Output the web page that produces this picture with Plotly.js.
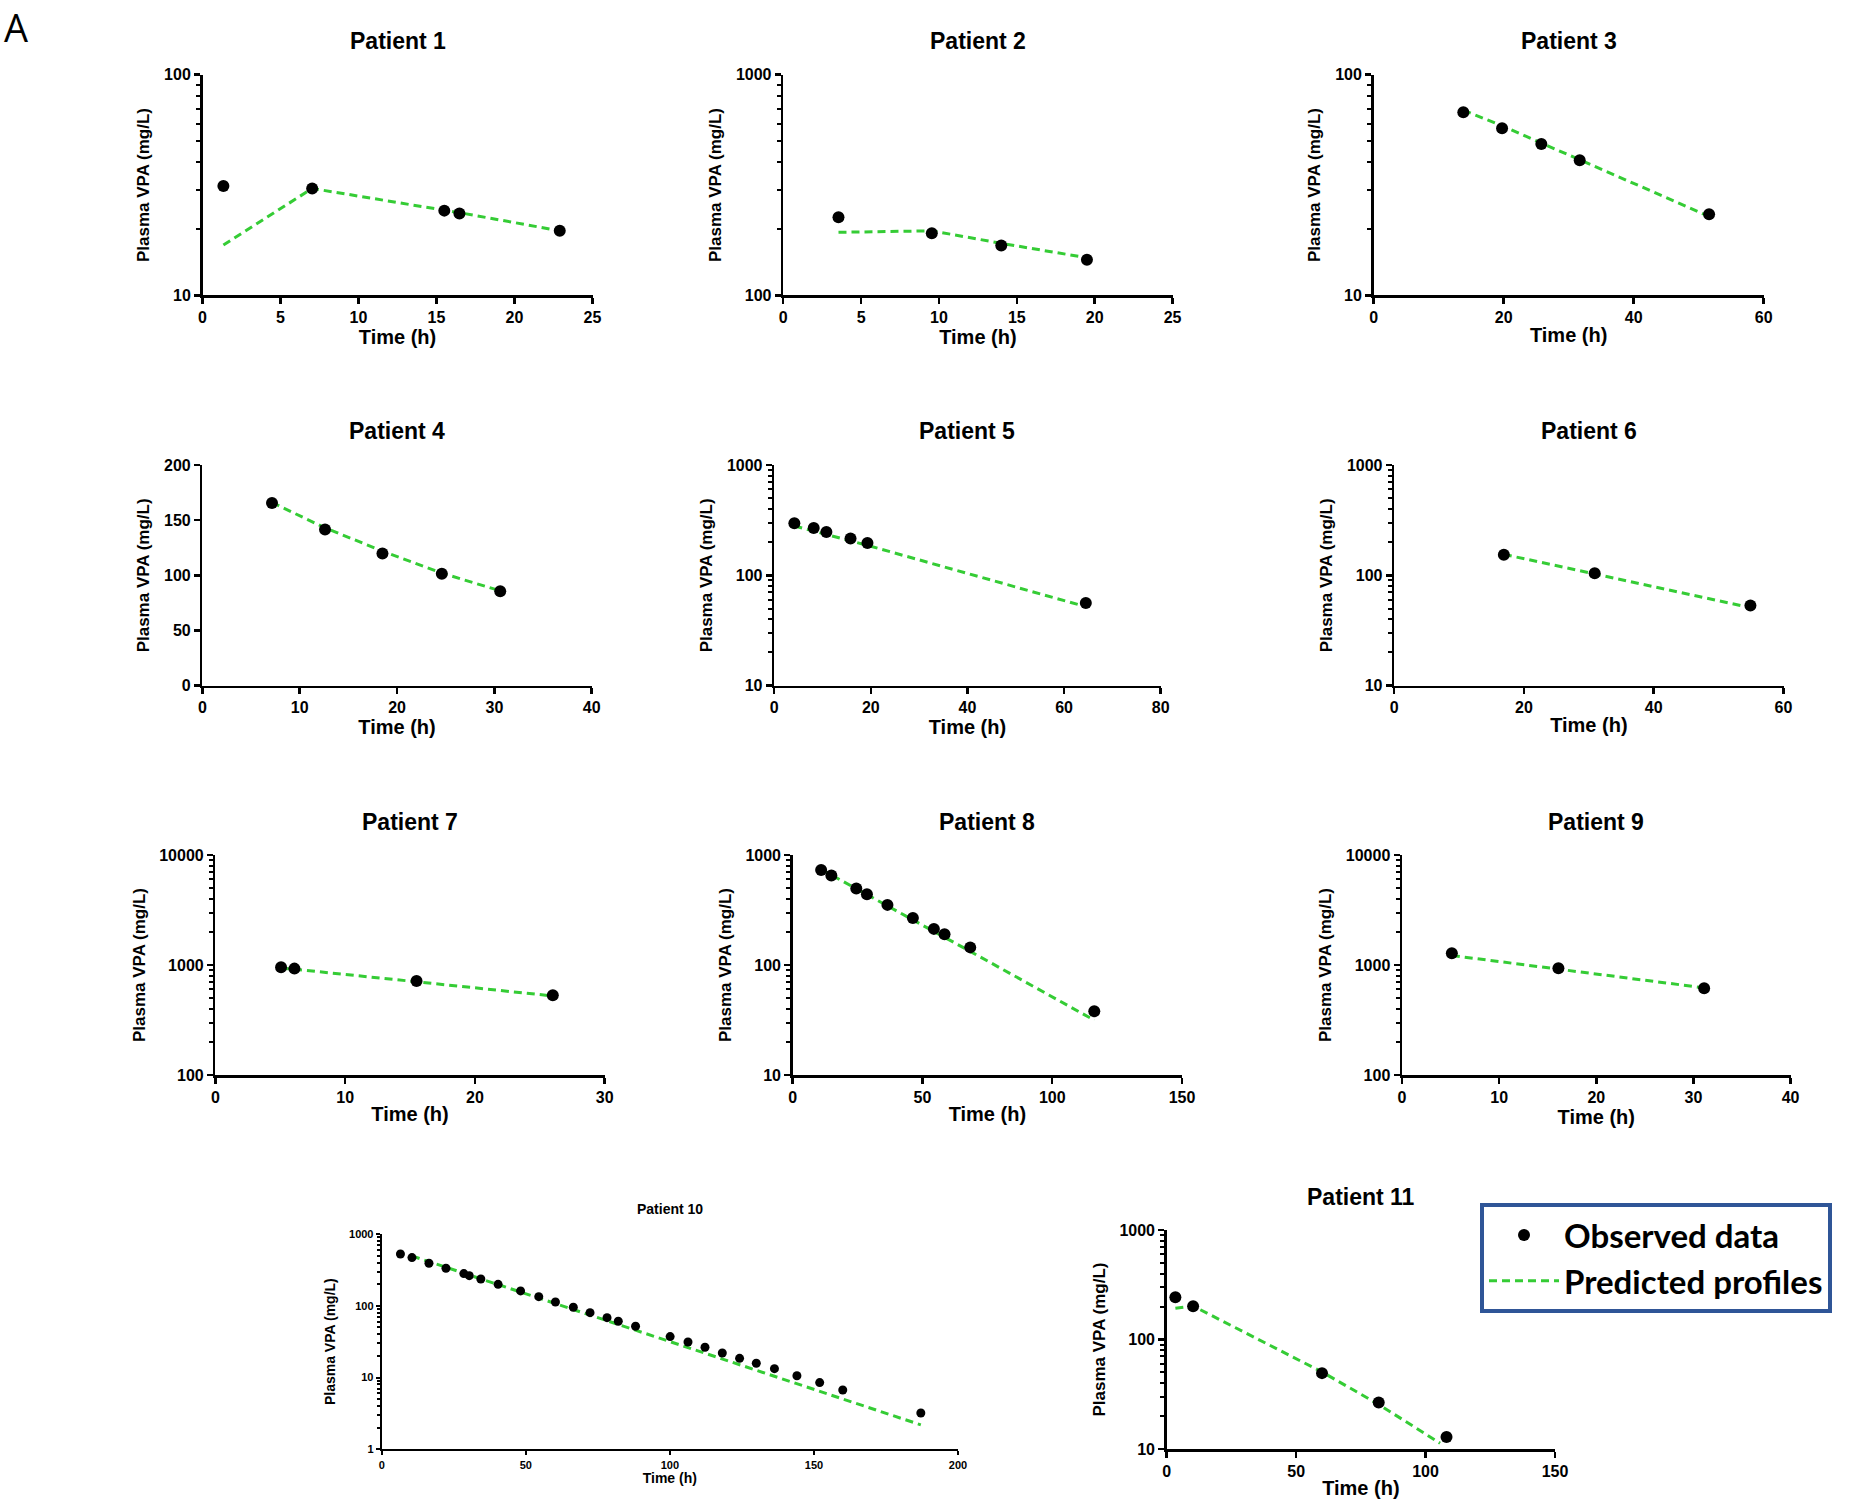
<!DOCTYPE html>
<html>
<head>
<meta charset="utf-8">
<script src="https://cdn.plot.ly/plotly-3.0.1.min.js"></script>
<style>
html,body{margin:0;padding:0;background:#ffffff;}
#chart{width:1858px;height:1506px;}
</style>
</head>
<body>
<div id="chart"></div>
<script>
// ---------------- DATA ----------------
const patientNames = ['Patient 1','Patient 2','Patient 3','Patient 4','Patient 5','Patient 6',
                      'Patient 7','Patient 8','Patient 9','Patient 10','Patient 11'];

const obsTime1 = [1.34, 7.03, 15.5, 16.47, 22.9];
const obsConc1 = [31.3, 30.5, 24.2, 23.5, 19.6];
const predTime1 = [1.34, 7.03, 15.5, 16.47, 22.9];
const predConc1 = [16.9, 30.5, 24.3, 23.7, 19.6];

const obsTime2 = [3.55, 9.54, 14.0, 19.5];
const obsConc2 = [226, 191, 168, 145];
const predTime2 = [3.55, 9.54, 14.0, 19.5];
const predConc2 = [193, 196, 172, 148];

const obsTime3 = [13.8, 19.76, 25.8, 31.7, 51.6];
const obsConc3 = [67.5, 57.2, 48.5, 40.9, 23.3];
const predTime3 = [13.8, 19.76, 25.8, 31.7, 51.6];
const predConc3 = [69, 58.7, 49, 41.1, 22.8];

const obsTime4 = [7.15, 12.6, 18.5, 24.6, 30.6];
const obsConc4 = [165.5, 141.5, 119.7, 101.5, 85.5];
const predTime4 = [7.15, 12.6, 18.5, 24.6, 30.6];
const predConc4 = [166, 143, 122, 102, 86];

const obsTime5 = [4.17, 8.18, 10.8, 15.8, 19.3, 64.5];
const obsConc5 = [297, 268, 247, 216, 196, 56.2];
const predTime5 = [4.17, 8.18, 10.8, 15.8, 19.3, 64.5];
const predConc5 = [280, 252, 234, 205, 187, 52];

const obsTime6 = [16.9, 30.9, 54.9];
const obsConc6 = [153.8, 104.3, 53.2];
const predTime6 = [16.9, 30.9, 54.9];
const predConc6 = [155, 103, 51];

const obsTime7 = [5.06, 6.09, 15.5, 26.0];
const obsConc7 = [953, 927, 715, 530];
const predTime7 = [5.06, 6.09, 15.5, 26.0];
const predConc7 = [935, 915, 704, 523];

const obsTime8 = [10.96, 14.9, 24.5, 28.6, 36.5, 46.3, 54.4, 58.5, 68.4, 116.2];
const obsConc8 = [731, 650, 495, 440, 352, 267, 213, 190, 144.6, 38];
const predTime8 = [10.96, 14.9, 24.5, 28.6, 36.5, 46.3, 54.4, 58.5, 68.4, 116.2];
const predConc8 = [740, 659, 494, 437, 345, 257, 202, 178.5, 133, 31.5];

const obsTime9 = [5.13, 16.1, 31.1];
const obsConc9 = [1276, 933, 614];
const predTime9 = [5.13, 16.1, 31.1];
const predConc9 = [1220, 920, 620];

const obsTime10 = [6.5, 10.5, 16.4, 22.3, 28.5, 30.4, 34.4, 40.4, 48.2, 54.5, 60.3, 66.5, 72.3, 78.2,
                   82.1, 88.1, 100.1, 106.3, 112.2, 118.2, 124.2, 130.0, 136.3, 144.1, 152.0, 160.0, 187.1];
const obsConc10 = [527, 469, 391, 333, 281, 263, 236, 199, 161, 134, 113, 95.3, 80.2, 68.3,
                   60.8, 51.8, 37.2, 31.3, 26.4, 22.0, 18.5, 15.8, 13.3, 10.6, 8.5, 6.7, 3.2];
const predTime10 = [10.5, 30, 50, 75, 100, 125, 150, 187.1];
const predConc10 = [494, 272, 147, 68.2, 31.7, 14.7, 6.83, 2.19];

const obsTime11 = [3.35, 10.2, 60.0, 81.9, 108.1];
const obsConc11 = [243, 201, 49.3, 26.6, 12.9];
const predTime11 = [3.35, 10.2, 60.0, 81.9, 105.6];
const predConc11 = [193, 202, 50.5, 25.5, 11.3];

const obsTimes = [obsTime1,obsTime2,obsTime3,obsTime4,obsTime5,obsTime6,obsTime7,obsTime8,obsTime9,obsTime10,obsTime11];
const obsConcs = [obsConc1,obsConc2,obsConc3,obsConc4,obsConc5,obsConc6,obsConc7,obsConc8,obsConc9,obsConc10,obsConc11];
const predTimes = [predTime1,predTime2,predTime3,predTime4,predTime5,predTime6,predTime7,predTime8,predTime9,predTime10,predTime11];
const predConcs = [predConc1,predConc2,predConc3,predConc4,predConc5,predConc6,predConc7,predConc8,predConc9,predConc10,predConc11];

// axis ranges & tick labels
const xMax   = [25, 25, 60, 40, 80, 60, 30, 150, 40, 200, 150];
const xDtick = [5, 5, 20, 10, 20, 20, 10, 50, 10, 50, 50];
const yIsLog = [true, true, true, false, true, true, true, true, true, true, true];
const yTicks1 = [10, 100];
const yTicks2 = [100, 1000];
const yTicks3 = [10, 100];
const yTicks4 = [0, 50, 100, 150, 200];
const yTicks5 = [10, 100, 1000];
const yTicks6 = [10, 100, 1000];
const yTicks7 = [100, 1000, 10000];
const yTicks8 = [10, 100, 1000];
const yTicks9 = [100, 1000, 10000];
const yTicks10 = [1, 10, 100, 1000];
const yTicks11 = [10, 100, 1000];
const yTicks = [yTicks1,yTicks2,yTicks3,yTicks4,yTicks5,yTicks6,yTicks7,yTicks8,yTicks9,yTicks10,yTicks11];

const legendObserved = 'Observed data';
const legendPredicted = 'Predicted profiles';
const xTitle = 'Time (h)';
const yTitle = 'Plasma VPA (mg/L)';
const panelLabel = 'A';

// ---------------- LAYOUT / STYLE (pixels in the 1858x1506 figure) ----------------
const W = 1858, H = 1506;
const boxes = [ // [left, right, top, bottom]
  [202.5, 592.5, 74.7, 295.3],
  [783.2, 1172.6, 74.7, 295.3],
  [1373.6, 1763.7, 74.7, 295.3],
  [202.4, 591.7, 465.0, 685.7],
  [774.2, 1160.7, 465.0, 685.7],
  [1394.2, 1783.5, 465.0, 685.7],
  [215.4, 604.7, 855.0, 1075.0],
  [792.7, 1182.0, 855.0, 1075.0],
  [1402.0, 1790.6, 855.0, 1075.0],
  [381.7, 958.0, 1234.0, 1449.3],
  [1166.7, 1555.0, 1230.0, 1449.0]
];
const titleY = [40.7, 40.7, 40.7, 430.7, 430.7, 430.7, 821.7, 821.7, 821.7, 1209.3, 1196.7];
const FONT = 'Liberation Sans, Arial, sans-serif';
const GREEN = '#35cc35';

const traces = [];
const layout = {
  width: W, height: H,
  margin: {l:0, r:0, t:0, b:0},
  paper_bgcolor: '#ffffff', plot_bgcolor: '#ffffff',
  showlegend: true,
  legend: {
    x: 1480/W, y: 1 - 1203/H, xanchor: 'left', yanchor: 'top',
    bordercolor: '#2f5597', borderwidth: 4, bgcolor: '#ffffff',
    font: {family: 'Lato, Open Sans, sans-serif', size: 33, color: '#000', weight: 'bold'},
    itemwidth: 70, tracegroupgap: 0
  },
  annotations: [],
  font: {family: FONT, color: '#000'}
};

for (let i = 0; i < 11; i++) {
  const n = i === 0 ? '' : String(i + 1);
  const small = (i === 9);
  const [l, r, t, b] = boxes[i];
  const tickSize = small ? 11 : 16;
  const xtSize = small ? 14 : 20;
  const ytSize = small ? 14 : 17;

  traces.push({
    type: 'scatter', mode: 'lines', x: predTimes[i], y: predConcs[i],
    xaxis: 'x' + n, yaxis: 'y' + n,
    name: legendPredicted, legendgroup: 'pred', legendrank: 2, showlegend: i === 0,
    line: {color: GREEN, width: 3, dash: '8px,5px'},
    hoverinfo: 'skip', cliponaxis: false
  });
  traces.push({
    type: 'scatter', mode: 'markers', x: obsTimes[i], y: obsConcs[i],
    xaxis: 'x' + n, yaxis: 'y' + n,
    name: legendObserved, legendgroup: 'obs', legendrank: 1, showlegend: i === 0,
    marker: {color: '#000', size: small ? 9 : 12, symbol: 'circle'},
    cliponaxis: false
  });

  const ticks = yTicks[i];
  const yRange = yIsLog[i]
    ? [Math.log10(ticks[0]), Math.log10(ticks[ticks.length - 1])]
    : [ticks[0], ticks[ticks.length - 1]];

  layout['xaxis' + n] = {
    domain: [l / W, r / W], anchor: 'y' + n,
    range: [0, xMax[i]], tickmode: 'linear', tick0: 0, dtick: xDtick[i],
    showline: true, linecolor: '#000', linewidth: small ? 2 : 2.5,
    ticks: 'outside', ticklen: small ? 4 : 6, tickwidth: small ? 2 : 2.5, tickcolor: '#000',
    showgrid: false, zeroline: false, automargin: false, fixedrange: true,
    tickfont: {family: FONT, size: tickSize, color: '#000', weight: 'bold'},
    title: {text: xTitle, font: {family: FONT, size: xtSize, color: '#000', weight: 'bold'}, standoff: 3}
  };
  const yax = {
    domain: [1 - b / H, 1 - t / H], anchor: 'x' + n,
    type: yIsLog[i] ? 'log' : 'linear', range: yRange,
    showline: true, linecolor: '#000', linewidth: small ? 2 : 2.5,
    ticks: 'outside', ticklen: small ? 4 : 6, tickwidth: small ? 2 : 2.5, tickcolor: '#000',
    showgrid: false, zeroline: false, automargin: false, fixedrange: true,
    tickfont: {family: FONT, size: tickSize, color: '#000', weight: 'bold'},
    title: {text: yTitle, font: {family: FONT, size: ytSize, color: '#000', weight: 'bold'}, standoff: 10}
  };
  if (yIsLog[i]) {
    yax.tickmode = 'linear';
    yax.tick0 = 0;
    yax.dtick = 1;
    yax.tickformat = 'd';
    yax.minor = {ticks: 'outside', dtick: 'D1', ticklen: small ? 3 : 4, tickwidth: 2,
                 tickcolor: '#000', showgrid: false};
  } else {
    yax.tickmode = 'array';
    yax.tickvals = ticks;
    yax.ticktext = ticks.map(String);
  }
  layout['yaxis' + n] = yax;

  layout.annotations.push({
    text: patientNames[i], xref: 'paper', yref: 'paper',
    x: (l + r) / 2 / W, y: 1 - titleY[i] / H, xanchor: 'center', yanchor: 'middle',
    showarrow: false,
    font: {family: FONT, size: small ? 14 : 23, color: '#000', weight: 'bold'}
  });
}

layout.annotations.push({
  text: panelLabel, xref: 'paper', yref: 'paper', x: 3 / W, y: 1,
  xanchor: 'left', yanchor: 'top', showarrow: false, borderpad: 0,
  font: {family: 'Open Sans, sans-serif', size: 38, color: '#000'}
});

Plotly.newPlot('chart', traces, layout, {staticPlot: true, displayModeBar: false});
</script>
</body>
</html>
